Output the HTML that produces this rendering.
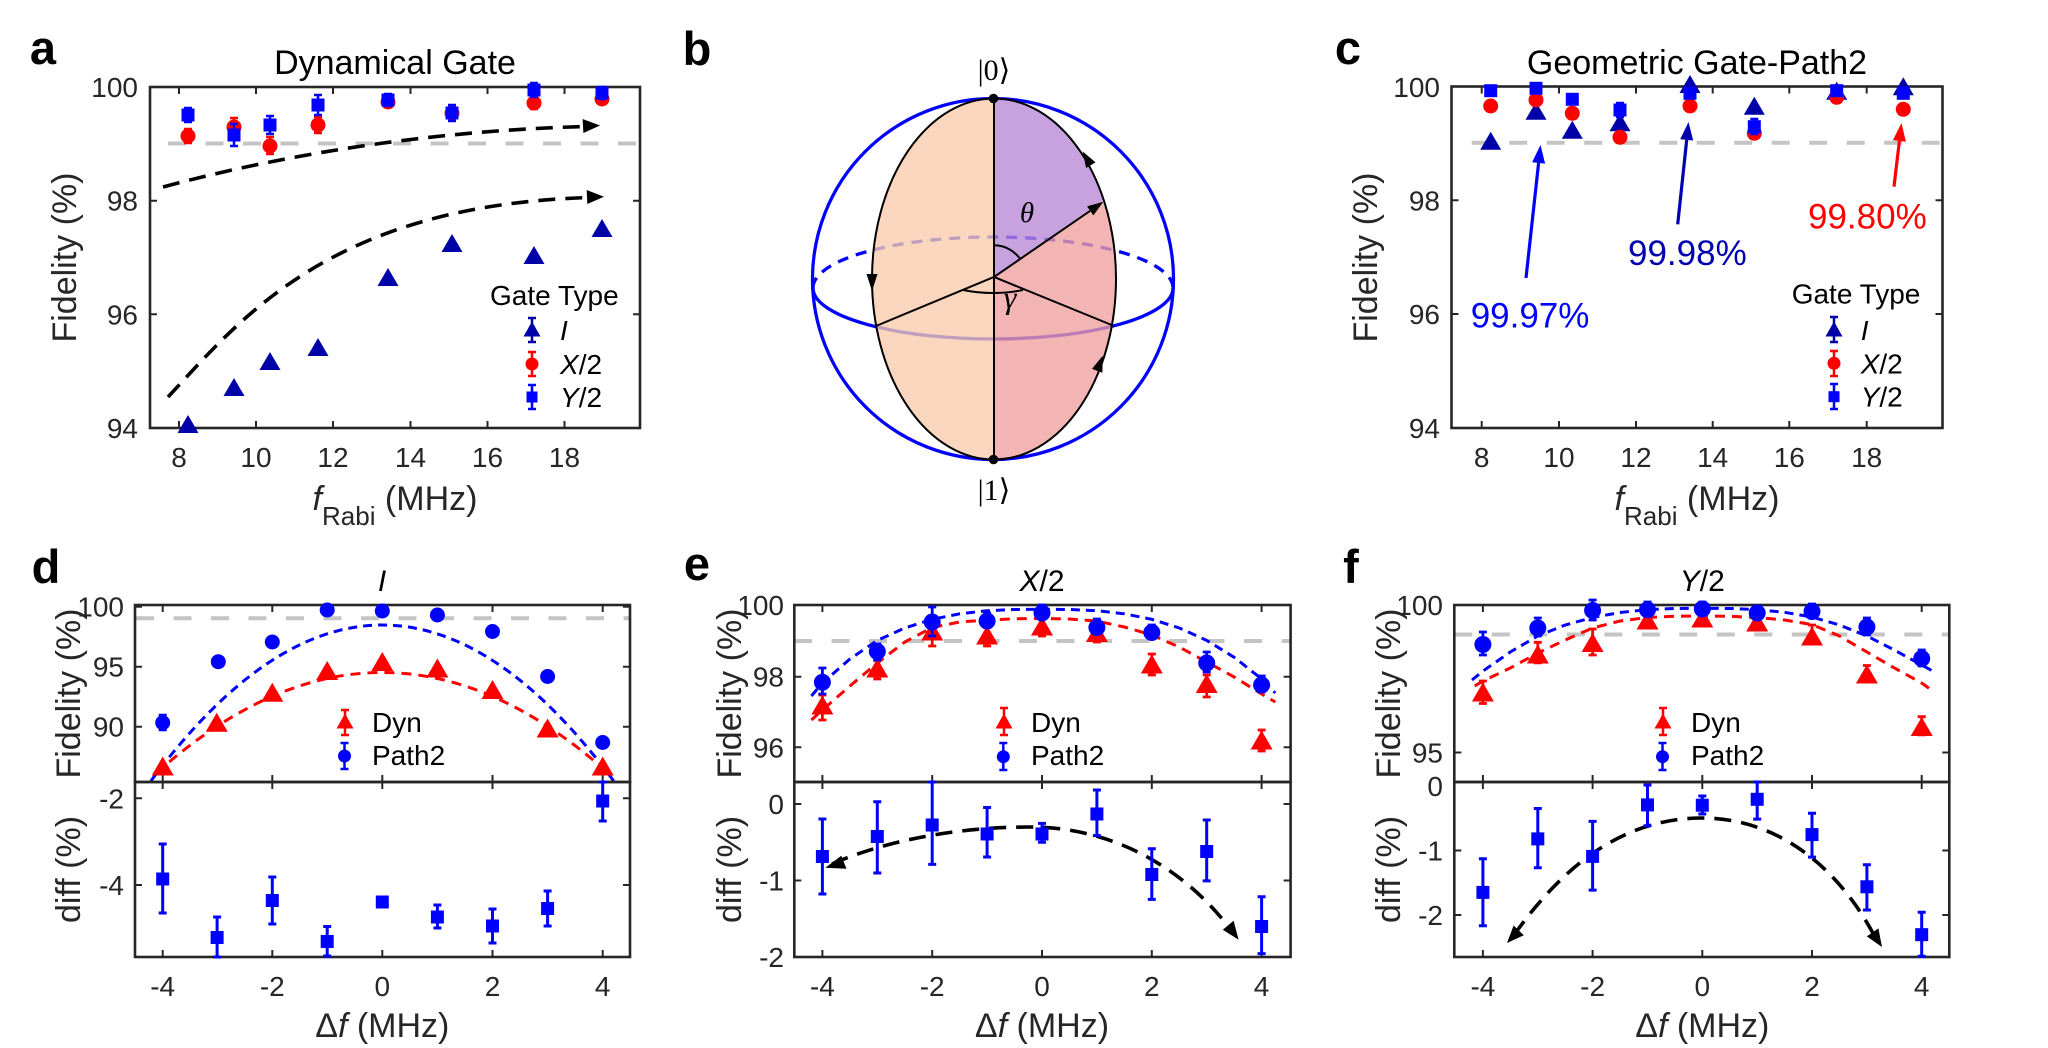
<!DOCTYPE html>
<html><head><meta charset="utf-8"><style>html,body{margin:0;padding:0;background:#fff}svg{display:block}</style></head>
<body>
<svg width="2048" height="1048" viewBox="0 0 2048 1048" xmlns="http://www.w3.org/2000/svg" font-family="'Liberation Sans', Arial, sans-serif">
<defs>
<path id="tri" d="M0,-10 L10.5,8 L-10.5,8 Z"/>
<circle id="cir" r="7.5"/>
<rect id="sqr" x="-6.5" y="-6.5" width="13" height="13"/>
<path id="trie" d="M0,-10.5 L11,8.5 L-11,8.5 Z"/>
<circle id="cire" r="8.5"/>
<path id="tril" d="M0,-8.5 L8.5,6.5 L-8.5,6.5 Z"/>
<circle id="cirl" r="6.5"/>
<rect id="sqrl" x="-5.5" y="-5.5" width="11" height="11"/>
</defs>
<rect width="2048" height="1048" fill="#fff"/>

<!-- panel labels -->
<g font-weight="bold" font-size="47" fill="#000" text-anchor="middle">
<text x="43" y="64">a</text>
<text x="697" y="65">b</text>
<text x="1348" y="64">c</text>
<text x="46" y="583">d</text>
<text x="697" y="580">e</text>
<text x="1351" y="583">f</text>
</g>

<!-- ================= PANEL A ================= -->
<text x="395" y="74" text-anchor="middle" font-size="34" fill="#000">Dynamical Gate</text>
<line x1="168" y1="143.5" x2="640" y2="143.5" stroke="#C4C4C4" stroke-width="4" stroke-dasharray="18 19.5"/>
<g fill="none" stroke="#000" stroke-width="3.6" stroke-dasharray="17 10">
<path d="M163,187 C300,150 450,130 586,126.5"/>
<path d="M168,397 C240,320 330,205 590,197.5"/>
</g>
<polygon points="600,125.5 583.4,133 582.6,119" fill="#000"/>
<polygon points="604,196.7 587.3,204 586.7,190" fill="#000"/>
<rect x="150" y="87" width="490" height="341" fill="none" stroke="#262626" stroke-width="2.6"/>
<path d="M179,428v-7M256,428v-7M333,428v-7M410.5,428v-7M487.5,428v-7M564.5,428v-7M179,87v7M256,87v7M333,87v7M410.5,87v7M487.5,87v7M564.5,87v7M150,200.7h7M150,314.3h7M640,200.7h-7M640,314.3h-7" stroke="#262626" stroke-width="2"/>
<g font-size="28" fill="#262626" text-anchor="middle">
<text x="179" y="467">8</text><text x="256" y="467">10</text><text x="333" y="467">12</text><text x="410.5" y="467">14</text><text x="487.5" y="467">16</text><text x="564.5" y="467">18</text>
</g>
<g font-size="28" fill="#262626" text-anchor="end">
<text x="138" y="97">100</text><text x="138" y="210.7">98</text><text x="138" y="324.3">96</text><text x="138" y="438">94</text>
</g>
<text transform="translate(76,257.5) rotate(-90)" text-anchor="middle" font-size="34" fill="#262626">Fidelity (%)</text>
<text x="395" y="510" text-anchor="middle" font-size="34" fill="#262626"><tspan font-style="italic">f</tspan><tspan font-size="26" dy="15">Rabi</tspan><tspan dy="-15"> (MHz)</tspan></text>
<!-- data a -->
<g fill="#0000A8">
<use href="#tri" x="188" y="425"/><use href="#tri" x="234" y="388"/><use href="#tri" x="270" y="362"/><use href="#tri" x="318" y="348"/><use href="#tri" x="388" y="278"/><use href="#tri" x="452" y="244"/><use href="#tri" x="534" y="256"/><use href="#tri" x="602" y="229"/>
</g>
<path d="M188,129V143M184,129h8M184,143h8M234,118V136M230,118h8M230,136h8M270,137V154M266,137h8M266,154h8M318,117V133M314,117h8M314,133h8M388,97V107M384,97h8M384,107h8M452,106V120M448,106h8M448,120h8M534,97V109M530,97h8M530,109h8M602,94V104M598,94h8M598,104h8" stroke="#FF0000" stroke-width="2.5" fill="none"/>
<g fill="#FF0000">
<use href="#cir" x="188" y="136"/><use href="#cir" x="234" y="127"/><use href="#cir" x="270" y="146"/><use href="#cir" x="318" y="125"/><use href="#cir" x="388" y="102"/><use href="#cir" x="452" y="113"/><use href="#cir" x="534" y="103"/><use href="#cir" x="602" y="99"/>
</g>
<path d="M188,108V122M184,108h8M184,122h8M234,124V146M230,124h8M230,146h8M270,116V134M266,116h8M266,134h8M318,95V115M314,95h8M314,115h8M388,94V106M384,94h8M384,106h8M452,105V121M448,105h8M448,121h8M534,83V97M530,83h8M530,97h8M602,87V99M598,87h8M598,99h8" stroke="#0000FF" stroke-width="2.5" fill="none"/>
<g fill="#0000FF">
<use href="#sqr" x="188" y="115"/><use href="#sqr" x="234" y="135"/><use href="#sqr" x="270" y="125"/><use href="#sqr" x="318" y="105"/><use href="#sqr" x="388" y="100"/><use href="#sqr" x="452" y="113"/><use href="#sqr" x="534" y="90"/><use href="#sqr" x="602" y="93"/>
</g>
<!-- legend a -->
<text x="490" y="305" font-size="28" fill="#000">Gate Type</text>
<path d="M532,318V342M528,318h8M528,342h8" stroke="#0000A8" stroke-width="2.5"/>
<use href="#tril" x="532" y="330" fill="#0000A8"/>
<path d="M532,352V376M528,352h8M528,376h8" stroke="#FF0000" stroke-width="2.5"/>
<use href="#cirl" x="532" y="364" fill="#FF0000"/>
<path d="M532,385V409M528,385h8M528,409h8" stroke="#0000FF" stroke-width="2.5"/>
<use href="#sqrl" x="532" y="397" fill="#0000FF"/>
<g font-size="28" fill="#000">
<text x="560" y="340" font-style="italic">I</text>
<text x="560" y="374"><tspan font-style="italic">X</tspan>/2</text>
<text x="560" y="407"><tspan font-style="italic">Y</tspan>/2</text>
</g>

<!-- ================= PANEL B ================= -->
<circle cx="993" cy="279" r="180.5" fill="none" stroke="#0000FF" stroke-width="3.3"/>
<path d="M813,288 A180,51 0 0 1 1173,288" fill="none" stroke="#0000FF" stroke-width="3.3" stroke-dasharray="11 8"/>
<path d="M813,288 A180,51 0 0 0 1173,288" fill="none" stroke="#0000FF" stroke-width="3.3"/>
<path d="M994,98.5 A122,180.5 0 0 0 994,459.5 Z" fill="#F7CBAB" fill-opacity="0.78"/>
<path d="M994,98.5 A122,180.5 0 0 1 1103.3,200 L994,277 Z" fill="#B788D6" fill-opacity="0.78"/>
<path d="M1103.3,200 A122,180.5 0 0 1 994,459.5 L994,277 Z" fill="#F09F9F" fill-opacity="0.78"/>
<g fill="none" stroke="#000" stroke-width="2">
<ellipse cx="994" cy="279" rx="122" ry="180.5"/>
<line x1="994" y1="98.5" x2="994" y2="459.5"/>
<path d="M876,326 L994,277 L1111.7,325 M994,277 L1090,210.9"/>
<path d="M994,245.3 A31.7,31.7 0 0 1 1019.9,258.7"/>
<path d="M963,290 Q993,296 1023,290"/>
</g>
<g fill="#000">
<polygon points="1103.3,201.7 1093.4,215.4 1087.0,206.4"/>
<polygon points="1082.6,151.4 1095.5,162.4 1086.1,168.0"/>
<polygon points="1102.7,355.8 1102.4,372.7 1092.0,368.9"/>
<polygon points="872,291 866.5,274 877.5,274"/>
<circle cx="993.5" cy="98.5" r="4.8"/>
<circle cx="993.5" cy="459.5" r="4.8"/>
</g>
<g font-family="'Liberation Serif', 'DejaVu Serif', serif" fill="#000" text-anchor="middle">
<text x="994" y="80" font-size="30">|0⟩</text>
<text x="994" y="500" font-size="30">|1⟩</text>
<text x="1027" y="222" font-size="29" font-style="italic">θ</text>
<text x="1010" y="308" font-size="32" font-style="italic">γ</text>
</g>

<!-- ================= PANEL C ================= -->
<text x="1697" y="74" text-anchor="middle" font-size="34" fill="#000">Geometric Gate-Path2</text>
<line x1="1471.7" y1="142.7" x2="1942.5" y2="142.7" stroke="#C4C4C4" stroke-width="4" stroke-dasharray="18 19.5"/>
<rect x="1451.5" y="86.5" width="491" height="341.5" fill="none" stroke="#262626" stroke-width="2.6"/>
<path d="M1481.7,428v-7M1559,428v-7M1636,428v-7M1712.7,428v-7M1789.3,428v-7M1866.7,428v-7M1481.7,86.5v7M1559,86.5v7M1636,86.5v7M1712.7,86.5v7M1789.3,86.5v7M1866.7,86.5v7M1451.5,200.3h7M1451.5,314h7M1942.5,200.3h-7M1942.5,314h-7" stroke="#262626" stroke-width="2"/>
<g font-size="28" fill="#262626" text-anchor="middle">
<text x="1481.7" y="467">8</text><text x="1559" y="467">10</text><text x="1636" y="467">12</text><text x="1712.7" y="467">14</text><text x="1789.3" y="467">16</text><text x="1866.7" y="467">18</text>
</g>
<g font-size="28" fill="#262626" text-anchor="end">
<text x="1440" y="97">100</text><text x="1440" y="210.3">98</text><text x="1440" y="324">96</text><text x="1440" y="438">94</text>
</g>
<text transform="translate(1377,257.5) rotate(-90)" text-anchor="middle" font-size="34" fill="#262626">Fidelity (%)</text>
<text x="1697" y="510" text-anchor="middle" font-size="34" fill="#262626"><tspan font-style="italic">f</tspan><tspan font-size="26" dy="15">Rabi</tspan><tspan dy="-15"> (MHz)</tspan></text>
<!-- data c -->
<g fill="#0000A8">
<use href="#tri" x="1490.7" y="141.7"/><use href="#tri" x="1536" y="111.7"/><use href="#tri" x="1572.3" y="130.7"/><use href="#tri" x="1620" y="123.3"/><use href="#tri" x="1690" y="85"/><use href="#tri" x="1754.3" y="106.7"/><use href="#tri" x="1836.7" y="91.7"/><use href="#tri" x="1903.3" y="87.3"/>
</g>
<g fill="#FF0000">
<use href="#cir" x="1490.7" y="106"/><use href="#cir" x="1536" y="100"/><use href="#cir" x="1572.3" y="113.3"/><use href="#cir" x="1620" y="137.3"/><use href="#cir" x="1690" y="106"/><use href="#cir" x="1754.3" y="133.3"/><use href="#cir" x="1836.7" y="97.3"/><use href="#cir" x="1903.3" y="109.3"/>
</g>
<path d="M1620,103V117M1616,103h8M1616,117h8M1754.3,119V134M1750.3,119h8M1750.3,134h8" stroke="#0000FF" stroke-width="2.5"/>
<g fill="#0000FF">
<use href="#sqr" x="1490.7" y="90.7"/><use href="#sqr" x="1536" y="88.3"/><use href="#sqr" x="1572.3" y="99.3"/><use href="#sqr" x="1620" y="110"/><use href="#sqr" x="1690" y="93.3"/><use href="#sqr" x="1754.3" y="126.7"/><use href="#sqr" x="1836.7" y="90.7"/><use href="#sqr" x="1903.3" y="93.3"/>
</g>
<!-- annotations c -->
<line x1="1526" y1="278" x2="1538.6" y2="162.9" stroke="#0000FF" stroke-width="3.2"/>
<polygon points="1540.5,145 1545.1,163.6 1532.1,162.2" fill="#0000FF"/>
<line x1="1677.7" y1="224.3" x2="1686.7" y2="139.9" stroke="#0000B0" stroke-width="3.2"/>
<polygon points="1688.5,122 1693.2,140.5 1680.2,139.3" fill="#0000B0"/>
<line x1="1894" y1="186.7" x2="1899.4" y2="140.9" stroke="#FF0000" stroke-width="3.2"/>
<polygon points="1901.5,123 1905.9,141.7 1892.9,140.1" fill="#FF0000"/>
<g font-size="35">
<text x="1470.7" y="327.5" fill="#0000FF">99.97%</text>
<text x="1628" y="265" fill="#0000B0">99.98%</text>
<text x="1808" y="228.5" fill="#FF0000">99.80%</text>
</g>
<!-- legend c -->
<text x="1791.7" y="303.5" font-size="28" fill="#000">Gate Type</text>
<path d="M1834,317V342M1830,317h8M1830,342h8" stroke="#0000A8" stroke-width="2.5"/>
<use href="#tril" x="1834" y="330" fill="#0000A8"/>
<path d="M1834,351V376M1830,351h8M1830,376h8" stroke="#FF0000" stroke-width="2.5"/>
<use href="#cirl" x="1834" y="363.3" fill="#FF0000"/>
<path d="M1834,384V409M1830,384h8M1830,409h8" stroke="#0000FF" stroke-width="2.5"/>
<use href="#sqrl" x="1834" y="396.7" fill="#0000FF"/>
<g font-size="28" fill="#000">
<text x="1860.7" y="340" font-style="italic">I</text>
<text x="1860.7" y="373.3"><tspan font-style="italic">X</tspan>/2</text>
<text x="1860.7" y="406.7"><tspan font-style="italic">Y</tspan>/2</text>
</g>

<!-- ================= PANEL D ================= -->
<text x="382" y="591" text-anchor="middle" font-size="30" font-style="italic" fill="#000">I</text>
<line x1="136" y1="618.3" x2="630" y2="618.3" stroke="#C4C4C4" stroke-width="4" stroke-dasharray="18 19.5"/>
<path d="M150.9,781 Q382.3,469 613.7,781" fill="none" stroke="#0000FF" stroke-width="3" stroke-dasharray="9 6"/>
<path d="M156.4,773 Q382.3,572 608.2,773" fill="none" stroke="#FF0000" stroke-width="3" stroke-dasharray="10 7"/>
<rect x="135" y="605" width="495" height="177" fill="none" stroke="#262626" stroke-width="2.6"/>
<rect x="135" y="782" width="495" height="175" fill="none" stroke="#262626" stroke-width="2.6"/>
<path d="M162.7,605v7M272.3,605v7M382.3,605v7M492.5,605v7M602.7,605v7M162.7,782v-7M272.3,782v-7M382.3,782v-7M492.5,782v-7M602.7,782v-7M162.7,782v7M272.3,782v7M382.3,782v7M492.5,782v7M602.7,782v7M162.7,957v-7M272.3,957v-7M382.3,957v-7M492.5,957v-7M602.7,957v-7M135,606.7h7M135,666.7h7M135,726.7h7M630,606.7h-7M630,666.7h-7M630,726.7h-7M135,798.3h7M135,885h7M630,798.3h-7M630,885h-7" stroke="#262626" stroke-width="2"/>
<g font-size="28" fill="#262626" text-anchor="end">
<text x="124" y="616.7">100</text><text x="124" y="676.7">95</text><text x="124" y="736.7">90</text>
<text x="124" y="808.3">-2</text><text x="124" y="895">-4</text>
</g>
<g font-size="28" fill="#262626" text-anchor="middle">
<text x="162.7" y="996">-4</text><text x="272.3" y="996">-2</text><text x="382.3" y="996">0</text><text x="492.5" y="996">2</text><text x="602.7" y="996">4</text>
</g>
<text transform="translate(80,693.5) rotate(-90)" text-anchor="middle" font-size="34" fill="#262626">Fidelity (%)</text>
<text transform="translate(80,869.5) rotate(-90)" text-anchor="middle" font-size="34" fill="#262626">diff (%)</text>
<text x="382.3" y="1037" text-anchor="middle" font-size="34" fill="#262626">Δ<tspan font-style="italic">f</tspan> (MHz)</text>
<g fill="#FF0000">
<use href="#trie" x="162.7" y="767"/><use href="#trie" x="216.7" y="723.3"/><use href="#trie" x="272.3" y="693.3"/><use href="#trie" x="327.2" y="671.5"/><use href="#trie" x="382.3" y="662.5"/><use href="#trie" x="437.4" y="669"/><use href="#trie" x="492.5" y="690.5"/><use href="#trie" x="547.6" y="729"/><use href="#trie" x="602.7" y="767"/>
</g>
<path d="M162.7,715V730M158.7,715h8M158.7,730h8" stroke="#0000FF" stroke-width="2.5"/>
<g fill="#0000FF">
<use href="#cir" x="162.7" y="722.7"/><use href="#cir" x="218.3" y="661.7"/><use href="#cir" x="272.3" y="642"/><use href="#cir" x="327.2" y="610"/><use href="#cir" x="382.3" y="611"/><use href="#cir" x="437.4" y="615"/><use href="#cir" x="492.5" y="631.5"/><use href="#cir" x="547.6" y="676.5"/><use href="#cir" x="602.7" y="742.5"/>
</g>
<!-- legend d -->
<path d="M345,710V735M341,710h8M341,735h8" stroke="#FF0000" stroke-width="2.5"/>
<use href="#tril" x="345" y="722" fill="#FF0000"/>
<path d="M344.5,743V769M340.5,743h8M340.5,769h8" stroke="#0000FF" stroke-width="2.5"/>
<use href="#cirl" x="344.5" y="756" fill="#0000FF"/>
<text x="372" y="732" font-size="28" fill="#000">Dyn</text>
<text x="372" y="765" font-size="28" fill="#000">Path2</text>
<!-- lower d -->
<path d="M162.7,844V913M158.7,844h8M158.7,913h8M217.1,917V957M213.1,917h8M213.1,957h8M272.3,877V924M268.3,877h8M268.3,924h8M327.2,926.5V956M323.2,926.5h8M323.2,956h8M437.4,905V928M433.4,905h8M433.4,928h8M492.5,909V943M488.5,909h8M488.5,943h8M547.6,891V926M543.6,891h8M543.6,926h8M602.7,782V821M598.7,782h8M598.7,821h8" stroke="#0000FF" stroke-width="3" fill="none"/>
<g fill="#0000FF">
<use href="#sqr" x="162.7" y="879"/><use href="#sqr" x="217.1" y="937.5"/><use href="#sqr" x="272.3" y="900.5"/><use href="#sqr" x="327.2" y="941.5"/><use href="#sqr" x="382.3" y="902"/><use href="#sqr" x="437.4" y="917"/><use href="#sqr" x="492.5" y="926"/><use href="#sqr" x="547.6" y="908.5"/><use href="#sqr" x="602.7" y="801"/>
</g>

<!-- ================= PANEL E ================= -->
<text x="1042" y="591" text-anchor="middle" font-size="30" fill="#000"><tspan font-style="italic">X</tspan>/2</text>
<line x1="794" y1="641" x2="1290.6" y2="641" stroke="#C4C4C4" stroke-width="4" stroke-dasharray="18 19.5"/>
<polyline points="811.4,696 822.4,683 849.9,659 877.3,640.4 904.8,628 932.2,619.3 959.7,613.8 987.1,610.7 1014.6,609.5 1042,609.3 1069.5,609.5 1096.9,610.7 1124.4,613.8 1151.8,619.3 1179.3,628 1206.7,640.4 1234.2,657.3 1261.6,678.9 1275.3,693" fill="none" stroke="#0000FF" stroke-width="3" stroke-dasharray="9 6"/>
<polyline points="811.4,720 822.4,710 849.9,686 877.3,663 904.8,642 932.2,627.5 959.7,622 987.1,620 1014.6,618.8 1042,618.5 1069.5,619 1096.9,621 1124.4,627 1151.8,635 1179.3,647 1206.7,662 1234.2,677 1261.6,694 1275.3,702" fill="none" stroke="#FF0000" stroke-width="3" stroke-dasharray="10 7"/>
<rect x="794.3" y="605" width="496.3" height="177" fill="none" stroke="#262626" stroke-width="2.6"/>
<rect x="794.3" y="782" width="496.3" height="175" fill="none" stroke="#262626" stroke-width="2.6"/>
<path d="M822.4,605v7M932.2,605v7M1042,605v7M1151.8,605v7M1261.6,605v7M822.4,782v-7M932.2,782v-7M1042,782v-7M1151.8,782v-7M1261.6,782v-7M822.4,782v7M932.2,782v7M1042,782v7M1151.8,782v7M1261.6,782v7M822.4,957v-7M932.2,957v-7M1042,957v-7M1151.8,957v-7M1261.6,957v-7M794.3,676.7h7M794.3,747.3h7M1290.6,676.7h-7M1290.6,747.3h-7M794.3,804h7M794.3,880.5h7M1290.6,804h-7M1290.6,880.5h-7" stroke="#262626" stroke-width="2"/>
<g font-size="28" fill="#262626" text-anchor="end">
<text x="784" y="615">100</text><text x="784" y="686.7">98</text><text x="784" y="757.3">96</text>
<text x="784" y="814">0</text><text x="784" y="890.5">-1</text><text x="784" y="967">-2</text>
</g>
<g font-size="28" fill="#262626" text-anchor="middle">
<text x="822.4" y="996">-4</text><text x="932.2" y="996">-2</text><text x="1042" y="996">0</text><text x="1151.8" y="996">2</text><text x="1261.6" y="996">4</text>
</g>
<text transform="translate(741,693.5) rotate(-90)" text-anchor="middle" font-size="34" fill="#262626">Fidelity (%)</text>
<text transform="translate(741,869.5) rotate(-90)" text-anchor="middle" font-size="34" fill="#262626">diff (%)</text>
<text x="1042" y="1037" text-anchor="middle" font-size="34" fill="#262626">Δ<tspan font-style="italic">f</tspan> (MHz)</text>
<path d="M822.4,695V720M818.4,695h8M818.4,720h8M877.3,660.5V679M873.3,660.5h8M873.3,679h8M932.2,622.5V646M928.2,622.5h8M928.2,646h8M987.1,627.5V646M983.1,627.5h8M983.1,646h8M1042,616V636M1038,616h8M1038,636h8M1096.9,623V642M1092.9,623h8M1092.9,642h8M1151.8,654V675M1147.8,654h8M1147.8,675h8M1206.7,675V697M1202.7,675h8M1202.7,697h8M1261.6,730V751M1257.6,730h8M1257.6,751h8" stroke="#FF0000" stroke-width="2.8" fill="none"/>
<g fill="#FF0000">
<use href="#trie" x="822.4" y="706"/><use href="#trie" x="877.3" y="669"/><use href="#trie" x="932.2" y="632"/><use href="#trie" x="987.1" y="636"/><use href="#trie" x="1042" y="627"/><use href="#trie" x="1096.9" y="633.5"/><use href="#trie" x="1151.8" y="665"/><use href="#trie" x="1206.7" y="684.5"/><use href="#trie" x="1261.6" y="741"/>
</g>
<path d="M822.4,668V694M818.4,668h8M818.4,694h8M877.3,644V660M873.3,644h8M873.3,660h8M932.2,607V636M928.2,607h8M928.2,636h8M987.1,613V627M983.1,613h8M983.1,627h8M1042,605V619M1038,605h8M1038,619h8M1096.9,619V634M1092.9,619h8M1092.9,634h8M1151.8,625V638M1147.8,625h8M1147.8,638h8M1206.7,652V672M1202.7,652h8M1202.7,672h8M1261.6,676V692M1257.6,676h8M1257.6,692h8" stroke="#0000FF" stroke-width="2.8" fill="none"/>
<g fill="#0000FF">
<use href="#cire" x="822.4" y="682.3"/><use href="#cire" x="877.3" y="651.5"/><use href="#cire" x="932.2" y="622"/><use href="#cire" x="987.1" y="621"/><use href="#cire" x="1042" y="613"/><use href="#cire" x="1096.9" y="627.5"/><use href="#cire" x="1151.8" y="632.5"/><use href="#cire" x="1206.7" y="663"/><use href="#cire" x="1261.6" y="685"/>
</g>
<!-- legend e -->
<path d="M1004,708V735M1000,708h8M1000,735h8" stroke="#FF0000" stroke-width="2.5"/>
<use href="#tril" x="1004" y="722" fill="#FF0000"/>
<path d="M1003.3,743V770M999.3,743h8M999.3,770h8" stroke="#0000FF" stroke-width="2.5"/>
<use href="#cirl" x="1003.3" y="756.7" fill="#0000FF"/>
<text x="1031" y="732" font-size="28" fill="#000">Dyn</text>
<text x="1031" y="765" font-size="28" fill="#000">Path2</text>
<!-- lower e -->
<g fill="none" stroke="#000" stroke-width="3.6" stroke-dasharray="17 10">
<path d="M832,864 C880,843 950,827 1030,827 C1110,827 1180,865 1228,926"/>
</g>
<polygon points="825.3,867.7 841.3,855.8 846.5,868.8" fill="#000"/>
<polygon points="1238.6,939.7 1222.8,929.7 1233.6,920.7" fill="#000"/>
<path d="M822.4,819V894M818.4,819h8M818.4,894h8M877.3,801.7V873M873.3,801.7h8M873.3,873h8M932.2,782V864.4M928.2,782h8M928.2,864.4h8M987.1,807.5V857M983.1,807.5h8M983.1,857h8M1042,823.4V842.2M1038,823.4h8M1038,842.2h8M1096.9,790V835.6M1092.9,790h8M1092.9,835.6h8M1151.8,848.8V899.4M1147.8,848.8h8M1147.8,899.4h8M1206.7,820V880.9M1202.7,820h8M1202.7,880.9h8M1261.6,896.7V953.6M1257.6,896.7h8M1257.6,953.6h8" stroke="#0000FF" stroke-width="3" fill="none"/>
<g fill="#0000FF">
<use href="#sqr" x="822.4" y="856.5"/><use href="#sqr" x="877.3" y="836.5"/><use href="#sqr" x="932.2" y="825"/><use href="#sqr" x="987.1" y="834"/><use href="#sqr" x="1042" y="834"/><use href="#sqr" x="1096.9" y="814"/><use href="#sqr" x="1151.8" y="874.5"/><use href="#sqr" x="1206.7" y="851.5"/><use href="#sqr" x="1261.6" y="926.5"/>
</g>

<!-- ================= PANEL F ================= -->
<text x="1702.3" y="591" text-anchor="middle" font-size="30" fill="#000"><tspan font-style="italic">Y</tspan>/2</text>
<line x1="1454.3" y1="634.5" x2="1949.3" y2="634.5" stroke="#C4C4C4" stroke-width="4" stroke-dasharray="18 19.5"/>
<polyline points="1472,680 1483,671 1510.3,652 1537.8,636 1565.2,625 1592.6,617.5 1620,612.5 1647.5,609.6 1674.9,608.5 1702.3,608.3 1729.7,608.5 1757.2,609.6 1784.6,612.3 1812,617 1839.4,625 1866.9,636 1894.3,650 1921.7,665 1932.7,671" fill="none" stroke="#0000FF" stroke-width="3" stroke-dasharray="9 6"/>
<polyline points="1474.7,686 1483,681 1510.3,668 1537.8,653 1565.2,640 1592.6,628 1620,621 1647.5,617.5 1674.9,616.2 1702.3,616 1729.7,616.3 1757.2,617.5 1784.6,620 1812,624.5 1839.4,636 1866.9,652 1894.3,668 1921.7,683 1932.7,691" fill="none" stroke="#FF0000" stroke-width="3" stroke-dasharray="10 7"/>
<rect x="1454.3" y="605" width="495" height="177" fill="none" stroke="#262626" stroke-width="2.6"/>
<rect x="1454.3" y="782" width="495" height="175" fill="none" stroke="#262626" stroke-width="2.6"/>
<path d="M1482.9,605v7M1592.6,605v7M1702.3,605v7M1812,605v7M1921.7,605v7M1482.9,782v-7M1592.6,782v-7M1702.3,782v-7M1812,782v-7M1921.7,782v-7M1482.9,782v7M1592.6,782v7M1702.3,782v7M1812,782v7M1921.7,782v7M1482.9,957v-7M1592.6,957v-7M1702.3,957v-7M1812,957v-7M1921.7,957v-7M1454.3,752.5h7M1949.3,752.5h-7M1454.3,850.5h7M1454.3,915h7M1949.3,850.5h-7M1949.3,915h-7" stroke="#262626" stroke-width="2"/>
<g font-size="28" fill="#262626" text-anchor="end">
<text x="1443" y="615">100</text><text x="1443" y="762.5">95</text>
<text x="1443" y="796">0</text><text x="1443" y="860.5">-1</text><text x="1443" y="925">-2</text>
</g>
<g font-size="28" fill="#262626" text-anchor="middle">
<text x="1482.9" y="996">-4</text><text x="1592.6" y="996">-2</text><text x="1702.3" y="996">0</text><text x="1812" y="996">2</text><text x="1921.7" y="996">4</text>
</g>
<text transform="translate(1400,693.5) rotate(-90)" text-anchor="middle" font-size="34" fill="#262626">Fidelity (%)</text>
<text transform="translate(1400,869.5) rotate(-90)" text-anchor="middle" font-size="34" fill="#262626">diff (%)</text>
<text x="1702.3" y="1037" text-anchor="middle" font-size="34" fill="#262626">Δ<tspan font-style="italic">f</tspan> (MHz)</text>
<path d="M1482.9,681V703.5M1478.9,681h8M1478.9,703.5h8M1537.8,642.3V662.8M1533.8,642.3h8M1533.8,662.8h8M1592.6,629V655M1588.6,629h8M1588.6,655h8M1647.5,612.6V627.5M1643.5,612.6h8M1643.5,627.5h8M1702.3,610V625M1698.3,610h8M1698.3,625h8M1757.2,614V629M1753.2,614h8M1753.2,629h8M1812,625V644M1808,625h8M1808,644h8M1866.9,665.5V682M1862.9,665.5h8M1862.9,682h8M1921.7,716.7V734.8M1917.7,716.7h8M1917.7,734.8h8" stroke="#FF0000" stroke-width="2.8" fill="none"/>
<g fill="#FF0000">
<use href="#trie" x="1482.9" y="693"/><use href="#trie" x="1537.8" y="655"/><use href="#trie" x="1592.6" y="643.5"/><use href="#trie" x="1647.5" y="621"/><use href="#trie" x="1702.3" y="619"/><use href="#trie" x="1757.2" y="623"/><use href="#trie" x="1812" y="637"/><use href="#trie" x="1866.9" y="675"/><use href="#trie" x="1921.7" y="727.5"/>
</g>
<path d="M1482.9,632V655M1478.9,632h8M1478.9,655h8M1537.8,618V636M1533.8,618h8M1533.8,636h8M1592.6,600V620M1588.6,600h8M1588.6,620h8M1647.5,602V616M1643.5,602h8M1643.5,616h8M1702.3,602V615M1698.3,602h8M1698.3,615h8M1757.2,606V619M1753.2,606h8M1753.2,619h8M1812,604V618M1808,604h8M1808,618h8M1866.9,618V635M1862.9,618h8M1862.9,635h8M1921.7,650V666M1917.7,650h8M1917.7,666h8" stroke="#0000FF" stroke-width="2.8" fill="none"/>
<g fill="#0000FF">
<use href="#cire" x="1482.9" y="644.5"/><use href="#cire" x="1537.8" y="628"/><use href="#cire" x="1592.6" y="610.5"/><use href="#cire" x="1647.5" y="609.8"/><use href="#cire" x="1702.3" y="609"/><use href="#cire" x="1757.2" y="613"/><use href="#cire" x="1812" y="611.5"/><use href="#cire" x="1866.9" y="627"/><use href="#cire" x="1921.7" y="658.5"/>
</g>
<!-- legend f -->
<path d="M1663,708V735M1659,708h8M1659,735h8" stroke="#FF0000" stroke-width="2.5"/>
<use href="#tril" x="1663" y="722" fill="#FF0000"/>
<path d="M1662.5,743V770M1658.5,743h8M1658.5,770h8" stroke="#0000FF" stroke-width="2.5"/>
<use href="#cirl" x="1662.5" y="756.7" fill="#0000FF"/>
<text x="1691" y="732" font-size="28" fill="#000">Dyn</text>
<text x="1691" y="765" font-size="28" fill="#000">Path2</text>
<!-- lower f -->
<g fill="none" stroke="#000" stroke-width="3.6" stroke-dasharray="17 10">
<path d="M1514,935 C1560,870 1620,818 1702,818 C1780,818 1840,870 1875,937"/>
</g>
<polygon points="1507,943 1513.6,925.5 1523.8,935.3" fill="#000"/>
<polygon points="1882,947 1866.8,936.4 1878.4,928.4" fill="#000"/>
<path d="M1482.9,858.7V925.8M1478.9,858.7h8M1478.9,925.8h8M1537.8,808.5V867.7M1533.8,808.5h8M1533.8,867.7h8M1592.6,821.4V890.1M1588.6,821.4h8M1588.6,890.1h8M1647.5,785V825.7M1643.5,785h8M1643.5,825.7h8M1702.3,796V814M1698.3,796h8M1698.3,814h8M1757.2,782V819.1M1753.2,782h8M1753.2,819.1h8M1812,813.2V857.1M1808,813.2h8M1808,857.1h8M1866.9,864.7V910M1862.9,864.7h8M1862.9,910h8M1921.7,912.3V956.2M1917.7,912.3h8M1917.7,956.2h8" stroke="#0000FF" stroke-width="3" fill="none"/>
<g fill="#0000FF">
<use href="#sqr" x="1482.9" y="892.4"/><use href="#sqr" x="1537.8" y="838.9"/><use href="#sqr" x="1592.6" y="856.4"/><use href="#sqr" x="1647.5" y="804.9"/><use href="#sqr" x="1702.3" y="805.2"/><use href="#sqr" x="1757.2" y="799.3"/><use href="#sqr" x="1812" y="834.6"/><use href="#sqr" x="1866.9" y="886.8"/><use href="#sqr" x="1921.7" y="934.7"/>
</g>
</svg>
</body></html>
